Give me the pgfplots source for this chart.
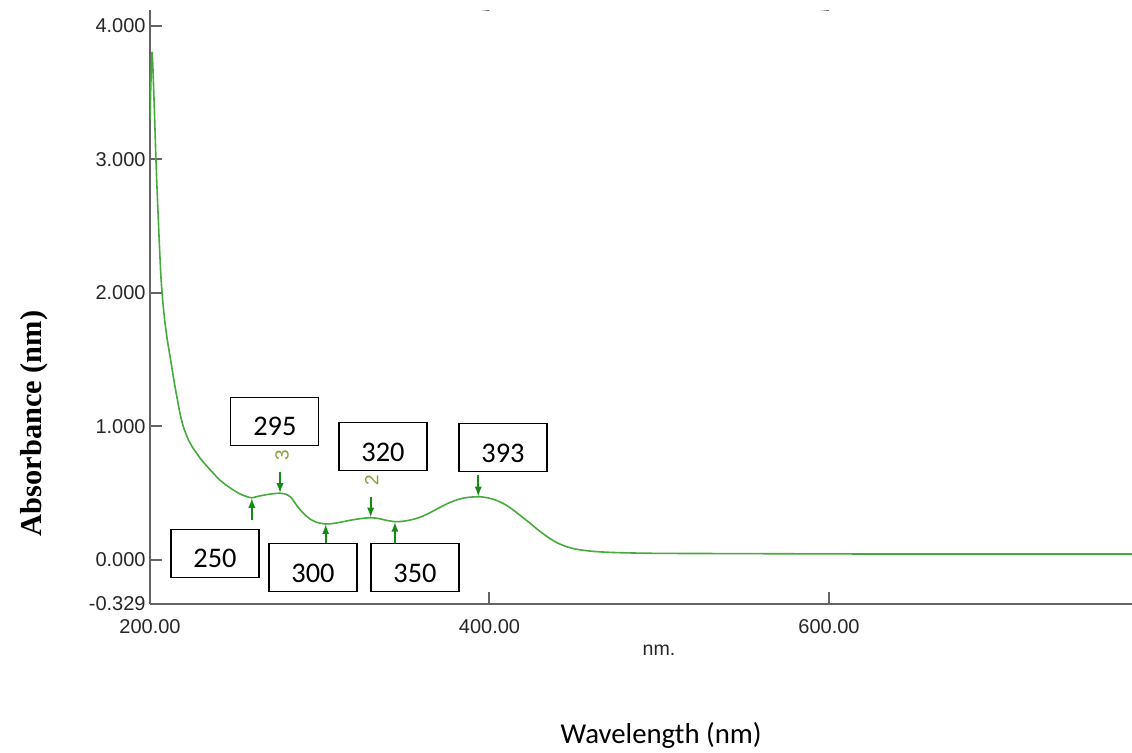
\documentclass[border=0pt]{standalone}
\usepackage{fontspec}
\setmainfont{Carlito}
\newfontfamily\arialf{Liberation Sans}
\newfontfamily\timesf{Liberation Serif}
\usepackage{pgfplots}
\pgfplotsset{compat=1.18}
\usetikzlibrary{arrows.meta}
\definecolor{curvegreen}{RGB}{70,170,60}
\definecolor{arrowgreen}{RGB}{20,140,20}
\definecolor{axgray}{RGB}{100,100,100}
\definecolor{pklabel}{RGB}{140,155,60}
\begin{document}
\begin{tikzpicture}
\path[use as bounding box] (-75pt,-74pt) rectangle (491pt,302pt);
\begin{axis}[
  at={(0,0)}, anchor=south west,
  scale only axis, width=491pt, height=297pt,
  xmin=200, xmax=778.5, ymin=-0.329, ymax=4.117,
  axis lines=left, axis line style={-, draw=axgray, line width=1.2pt},
  tick align=inside, major tick length=6pt,
  tick style={draw=axgray, line width=1pt},
  xtick={200,400,600}, xticklabels={200.00,400.00,600.00},
  ytick={-0.329,0,1,2,3,4},
  yticklabels={-0.329,0.000,1.000,2.000,3.000,4.000},
  ticklabel style={font=\arialf\fontsize{10}{12}\selectfont, text=black!85},
  xticklabel style={yshift=-4pt},
  yticklabel style={inner sep=1pt, xshift=-1pt},
  clip=true,
]
\addplot[curvegreen, line width=0.8pt, smooth, tension=0.4] coordinates {
(200.0,3.30) (200.6,3.60) (201.3,3.80) (202.5,3.40) (203.5,3.00) (204.4,2.70)
(205.4,2.40) (206.4,2.13) (207.5,1.94) (208.8,1.78) (210.3,1.64) (212.0,1.51)
(214.3,1.33) (216.0,1.21) (217.8,1.09) (219.6,1.00) (221.0,0.95) (222.6,0.90)
(225.0,0.845) (227.5,0.80) (230.0,0.755) (233.0,0.71) (237.3,0.65) (241.0,0.60)
(245.0,0.56) (249.0,0.525) (253.0,0.495) (257.0,0.475) (260.0,0.466) (264.0,0.478)
(268.0,0.488) (272.0,0.496) (276.6,0.50) (280.0,0.493) (283.0,0.47) (286.4,0.41)
(290.0,0.355) (294.0,0.31) (298.0,0.283) (303.5,0.27) (308.0,0.274) (313.0,0.285)
(318.0,0.298) (324.0,0.31) (330.0,0.317) (335.0,0.31) (339.0,0.298) (344.3,0.287)
(348.0,0.289) (352.0,0.296) (356.0,0.308) (360.0,0.325) (364.0,0.348) (368.0,0.375)
(372.0,0.402) (376.0,0.427) (380.0,0.447) (384.0,0.462) (388.0,0.47) (393.4,0.474)
(398.0,0.468) (403.0,0.452) (408.0,0.424) (412.0,0.393) (416.0,0.355) (420.0,0.315)
(424.0,0.275) (428.0,0.232) (432.0,0.193) (436.0,0.158) (440.0,0.128) (445.0,0.102)
(450.0,0.084) (456.0,0.072) (462.0,0.064) (470.0,0.058) (480.0,0.054) (500.0,0.050)
(550.0,0.048) (600.0,0.046) (650.0,0.045) (700.0,0.045) (778.5,0.045)
};
\addplot[arrowgreen, line width=0.9pt, no marks, -{Latex[length=5pt,width=3.6pt]},
  quiver={u=0, v=\thisrow{v}}] table {
x y v
276.6 0.661 -0.161
330.0 0.474 -0.157
393.4 0.636 -0.162
260.0 0.300 0.166
303.5 0.125 0.145
344.3 0.125 0.162
};
% small top ticks
\draw[axgray, line width=1pt] (axis cs:400,4.117) -- ++(0,-2.5pt);
\draw[axgray, line width=1pt] (axis cs:600,4.117) -- ++(0,-2.5pt);
% peak numbers
\node[rotate=90, text=pklabel, font=\arialf\fontsize{9.5}{10}\selectfont] at (axis cs:277.8,0.786) {3};
\node[rotate=90, text=pklabel, font=\arialf\fontsize{9.5}{10}\selectfont] at (axis cs:330.6,0.599) {2};
\end{axis}
% label boxes (positions in pt relative to axis origin)
\foreach \cx/\cy/\t in {62.45/91.25/295, 116.5/78.65/320, 176.5/78.1/393, 32.5/25.25/250, 81.5/18.15/300, 132.5/18.15/350}{
  \node[draw=black, line width=0.6pt, fill=white, minimum width=44pt, minimum height=24pt, inner sep=0pt] at (\cx pt,\cy pt) {};
  \node[font=\fontsize{14.2}{16}\selectfont, inner sep=0pt] at (\cx pt,\cy pt - 2.6pt) {\t};
}
\node[font=\arialf\fontsize{9.8}{11}\selectfont, text=black!85] at (254.5pt,-23pt) {nm.};
\node[font=\fontsize{14.4}{17}\selectfont] at (255.6pt,-65.5pt) {Wavelength (nm)};
\node[rotate=90, font=\timesf\bfseries\fontsize{15.2}{17}\selectfont] at (-58pt,90.25pt) {Absorbance (nm)};
\end{tikzpicture}
\end{document}
